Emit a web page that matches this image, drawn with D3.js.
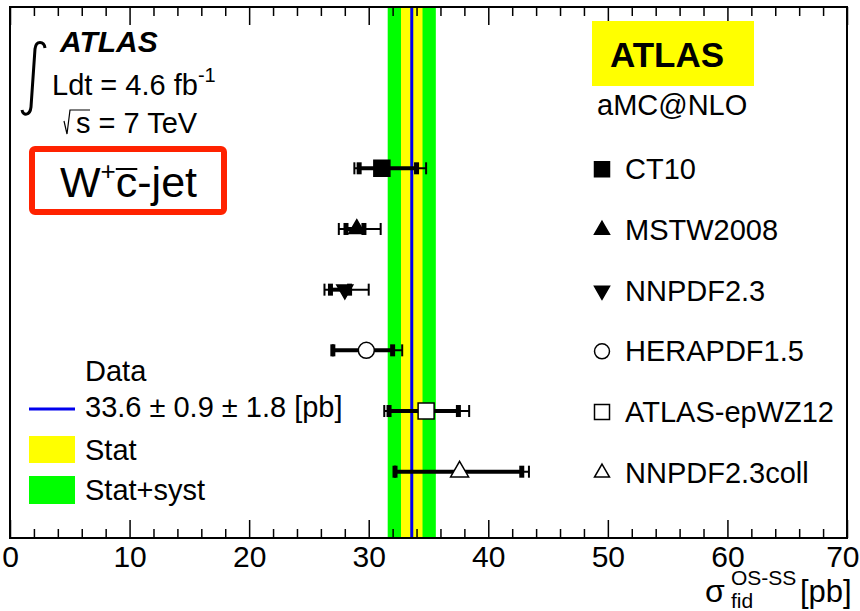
<!DOCTYPE html>
<html>
<head>
<meta charset="utf-8">
<script src="https://cdn.jsdelivr.net/npm/d3@7"></script>
<style>
  html, body { margin: 0; padding: 0; background: #fff; }
  svg { display: block; }
  text { font-family: "Liberation Sans", Arial, Helvetica, sans-serif; fill: #000; }
</style>
</head>
<body>
<svg id="chart" width="860" height="611"></svg>
<script>
// ---------------- data ----------------
const models   = ["CT10", "MSTW2008", "NNPDF2.3", "HERAPDF1.5", "ATLAS-epWZ12", "NNPDF2.3coll"];
const central  = [31.1, 29.0, 28.0, 29.8, 34.8, 37.6];
const innerLo  = [29.2, 28.1, 26.8, 27.0, 31.7, 32.2];
const innerHi  = [34.0, 29.6, 28.4, 32.0, 37.5, 42.8];
const outerLo  = [28.8, 27.5, 26.3, 27.0, 31.3, 32.2];
const outerHi  = [34.8, 31.0, 30.0, 32.8, 38.4, 43.4];
const markerKinds = ["squareFilled", "triUpFilled", "triDownFilled", "circleOpen", "squareOpen", "triUpOpen"];

const dataValue = 33.6;
const dataStat  = 0.9;
const dataSyst  = 1.8;
const xTicksMajor = [0, 10, 20, 30, 40, 50, 60, 70];
const xTicksMinor = [2, 4, 6, 8, 12, 14, 16, 18, 22, 24, 26, 28, 32, 34, 36, 38, 42, 44, 46, 48, 52, 54, 56, 58, 62, 64, 66, 68];

// ---------------- layout ----------------
const svg = d3.select("#chart");
const L = 10, R = 847, T = 7, B = 538;
const x = d3.scaleLinear().domain([0, 70]).range([L, R]);
const y = d3.scalePoint().domain(models).range([168.3, 471.7]);
const FONT = 29;

// bands
const total = Math.sqrt(dataStat * dataStat + dataSyst * dataSyst);
svg.append("rect")
  .attr("x", x(dataValue - total)).attr("y", T)
  .attr("width", x(dataValue + total) - x(dataValue - total)).attr("height", B - T)
  .attr("fill", "#00ff00");
svg.append("rect")
  .attr("x", x(dataValue - dataStat)).attr("y", T)
  .attr("width", x(dataValue + dataStat) - x(dataValue - dataStat)).attr("height", B - T)
  .attr("fill", "#ffff00");
svg.append("line")
  .attr("x1", x(dataValue)).attr("x2", x(dataValue))
  .attr("y1", T).attr("y2", B)
  .attr("stroke", "#0000ee").attr("stroke-width", 3);

// axes
function styleAxis(g) {
  g.select(".domain").remove();
  g.selectAll(".tick line").attr("stroke", "#000").attr("stroke-width", 1.5);
}
const axB = svg.append("g").attr("transform", `translate(0,${B})`)
  .call(d3.axisBottom(x).tickValues(xTicksMajor).tickSize(-18).tickSizeOuter(0).tickPadding(8).tickFormat(d3.format("d")));
styleAxis(axB);
axB.selectAll(".tick text").style("font-size", "30px").style("font-family", "Liberation Sans, Arial, sans-serif").attr("fill", "#000");
// keep the last label inside the page
axB.selectAll(".tick text").filter(d => d === 70).attr("text-anchor", "end").attr("x", 859 - x(70));
const axBm = svg.append("g").attr("transform", `translate(0,${B})`)
  .call(d3.axisBottom(x).tickValues(xTicksMinor).tickSize(-9).tickSizeOuter(0).tickFormat(""));
styleAxis(axBm);
const axT = svg.append("g").attr("transform", `translate(0,${T})`)
  .call(d3.axisTop(x).tickValues(xTicksMajor).tickSize(-18).tickSizeOuter(0).tickFormat(""));
styleAxis(axT);
const axTm = svg.append("g").attr("transform", `translate(0,${T})`)
  .call(d3.axisTop(x).tickValues(xTicksMinor).tickSize(-9).tickSizeOuter(0).tickFormat(""));
styleAxis(axTm);

// frame
svg.append("rect").attr("x", L).attr("y", T).attr("width", R - L).attr("height", B - T)
  .attr("fill", "none").attr("stroke", "#000").attr("stroke-width", 2);

// markers
function drawMarker(g, kind, cx, cy, s) {
  let sym, fill, rot = 0;
  const triArea = (w) => Math.sqrt(3) / 4 * w * w;
  switch (kind) {
    case "squareFilled": sym = d3.symbol(d3.symbolSquare, s * s); fill = "#000"; break;
    case "squareOpen":   sym = d3.symbol(d3.symbolSquare, s * s); fill = "#fff"; break;
    case "triUpFilled":  sym = d3.symbol(d3.symbolTriangle, triArea(s)); fill = "#000"; break;
    case "triDownFilled":sym = d3.symbol(d3.symbolTriangle, triArea(s)); fill = "#000"; rot = 180; break;
    case "triUpOpen":    sym = d3.symbol(d3.symbolTriangle, triArea(s)); fill = "#fff"; break;
    case "circleOpen":   sym = d3.symbol(d3.symbolCircle, Math.PI * s * s / 4); fill = "#fff"; break;
  }
  g.append("path").attr("d", sym())
    .attr("transform", `translate(${cx},${cy}) rotate(${rot})`)
    .attr("fill", fill).attr("stroke", "#000").attr("stroke-width", 1.5);
}

// predictions
const pts = svg.append("g");
models.forEach((m, i) => {
  const cy = y(m);
  pts.append("line").attr("x1", x(outerLo[i])).attr("x2", x(outerHi[i])).attr("y1", cy).attr("y2", cy)
    .attr("stroke", "#000").attr("stroke-width", 2);
  [outerLo[i], outerHi[i]].forEach(v => {
    pts.append("rect").attr("x", x(v) - 1).attr("y", cy - 6).attr("width", 2).attr("height", 12).attr("fill", "#000");
  });
  pts.append("line").attr("x1", x(innerLo[i])).attr("x2", x(innerHi[i])).attr("y1", cy).attr("y2", cy)
    .attr("stroke", "#000").attr("stroke-width", 4);
  [innerLo[i], innerHi[i]].forEach(v => {
    pts.append("rect").attr("x", x(v) - 2.5).attr("y", cy - 6).attr("width", 5).attr("height", 12).attr("fill", "#000");
  });
  const size = markerKinds[i].startsWith("square") ? 16 : (markerKinds[i] === "triUpOpen" ? 18 : 16);
  drawMarker(pts, markerKinds[i], x(central[i]), cy, size);
});

// right legend
const lg = svg.append("g");
lg.append("rect").attr("x", 592).attr("y", 21).attr("width", 162).attr("height", 65).attr("fill", "#ffff00");
lg.append("text").attr("x", 610).attr("y", 67).style("font-size", "35px").style("font-weight", "bold").text("ATLAS");
lg.append("text").attr("x", 597).attr("y", 115).style("font-size", FONT + "px").text("aMC@NLO");
models.forEach((m, i) => {
  const cy = y(m);
  drawMarker(lg, markerKinds[i], 602, cy + 1, 15);
  lg.append("text").attr("x", 625).attr("y", cy + 11).style("font-size", FONT + "px").text(m);
});

// top-left labels
const tl = svg.append("g");
tl.append("path").attr("d", "M 45 48 C 44 41, 36 40, 35 49 L 31 107 C 30 116, 23 116, 22 110")
  .attr("fill", "none").attr("stroke", "#000").attr("stroke-width", 3);
tl.append("text").attr("x", 60).attr("y", 52).style("font-size", "30px").style("font-weight", "bold").style("font-style", "italic").text("ATLAS");
const lum = tl.append("text").attr("x", 52).attr("y", 95).style("font-size", FONT + "px");
lum.append("tspan").text("Ldt = 4.6 fb");
lum.append("tspan").attr("dy", -13).style("font-size", "20px").text("-1");
tl.append("path").attr("d", "M 64 121 L 67 134 L 70 110 L 90 110").attr("fill", "none").attr("stroke", "#000").attr("stroke-width", 1.2);
tl.append("text").attr("x", 76).attr("y", 133).style("font-size", FONT + "px").text("s = 7 TeV");

// W+c-jet box
tl.append("rect").attr("x", 32).attr("y", 149).attr("width", 192).attr("height", 63).attr("rx", 3)
  .attr("fill", "#fff").attr("stroke", "#ff2200").attr("stroke-width", 6);
const wc = tl.append("text").attr("x", 60).attr("y", 197).style("font-size", "43px");
wc.append("tspan").text("W");
wc.append("tspan").attr("dy", -17).style("font-size", "26px").text("+");
wc.append("tspan").attr("dy", 17).text("c");
wc.append("tspan").text("-jet");
{
  const n = wc.node();
  const idx = n.textContent.indexOf("c");
  const start = n.getStartPositionOfChar(idx);
  const end = n.getEndPositionOfChar(idx);
  tl.append("line").attr("x1", start.x).attr("x2", end.x).attr("y1", 169).attr("y2", 169)
    .attr("stroke", "#000").attr("stroke-width", 2);
}

// left legend
const ll = svg.append("g");
ll.append("text").attr("x", 85).attr("y", 381).style("font-size", FONT + "px").text("Data");
ll.append("line").attr("x1", 29).attr("x2", 75).attr("y1", 409).attr("y2", 409).attr("stroke", "#0000ee").attr("stroke-width", 3);
ll.append("text").attr("x", 85).attr("y", 417).style("font-size", FONT + "px")
  .text(`${dataValue} \u00B1 ${dataStat} \u00B1 ${dataSyst} [pb]`);
ll.append("rect").attr("x", 29).attr("y", 436).attr("width", 46).attr("height", 27).attr("fill", "#ffff00");
ll.append("text").attr("x", 85).attr("y", 460).style("font-size", FONT + "px").text("Stat");
ll.append("rect").attr("x", 29).attr("y", 476).attr("width", 46).attr("height", 28).attr("fill", "#00ff00");
ll.append("text").attr("x", 85).attr("y", 500).style("font-size", FONT + "px").text("Stat+syst");

// x title
const xt = svg.append("g");
xt.append("text").attr("x", 705).attr("y", 602).style("font-size", "32px").text("\u03C3");
xt.append("text").attr("x", 731).attr("y", 585).style("font-size", "21px").text("OS-SS");
xt.append("text").attr("x", 731).attr("y", 608).style("font-size", "21px").text("fid");
xt.append("text").attr("x", 800).attr("y", 602).style("font-size", "31px").text("[pb]");
</script>
</body>
</html>
